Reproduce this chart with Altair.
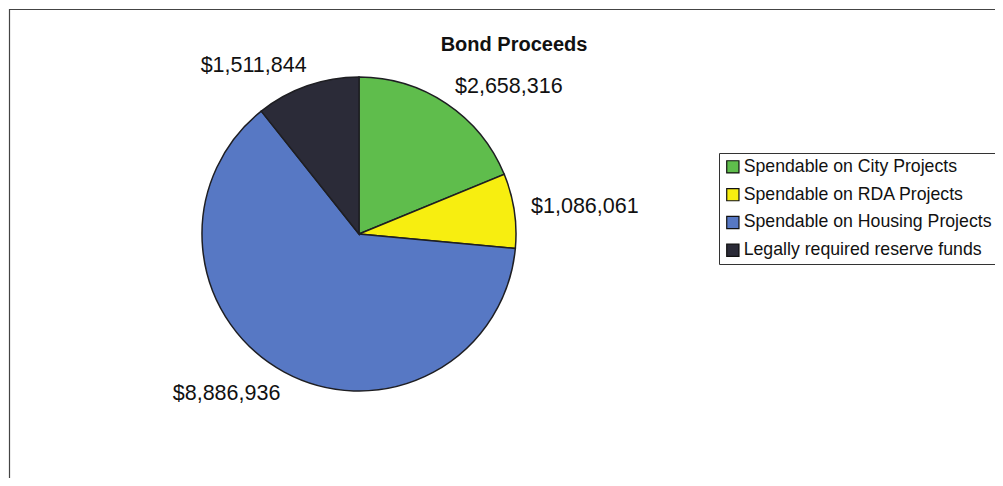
import altair as alt
import pandas as pd

categories = ["Spendable on City Projects", "Spendable on RDA Projects",
              "Spendable on Housing Projects", "Legally required reserve funds"]
values = [2658316, 1086061, 8886936, 1511844]
labels = ["$2,658,316", "$1,086,061", "$8,886,936", "$1,511,844"]
right_side = ["Spendable on City Projects", "Spendable on RDA Projects"]
colors = ["#5fbd4c", "#f7ee10", "#5778c4", "#2b2b38"]

df = pd.DataFrame({"cat": categories, "value": values, "label": labels,
                   "idx": list(range(len(categories)))})

W, H = 987, 470
CX, CY = 350, 225
R = 157

base = alt.Chart(df).encode(
    theta=alt.Theta("value:Q", stack=True),
    order=alt.Order("idx:Q"),
    x=alt.value(CX), y=alt.value(CY),
)

pie = base.mark_arc(outerRadius=R, stroke="#1e1e22", strokeWidth=1.5).encode(
    color=alt.Color("cat:N", sort=categories,
                    scale=alt.Scale(domain=categories, range=colors),
                    legend=alt.Legend(
                        title=None, orient="none", legendX=710, legendY=144,
                        symbolType="square", symbolSize=150,
                        symbolStrokeColor="#111", symbolStrokeWidth=1.2,
                        labelFont="Liberation Sans", labelFontSize=17.7,
                        labelColor="#111", labelOffset=2, labelLimit=400,
                        rowPadding=8.8, padding=5,
                        strokeColor="#333", fillColor="white")),
)

is_right = "indexof(" + str(right_side).replace("'", '"') + ", datum.cat) >= 0"

lab_right = base.mark_text(radius=176, dx=-2, dy=-1, align="left", baseline="middle",
                           font="Liberation Sans", fontSize=21.5, color="#111").encode(
    text=alt.condition(is_right, "label:N", alt.value("")))
lab_left = base.mark_text(radius=180, dx=7, dy=2, align="right", baseline="middle",
                          font="Liberation Sans", fontSize=21.5, color="#111").encode(
    text=alt.condition(is_right, alt.value(""), "label:N"))

title = alt.Chart(pd.DataFrame({"t": ["Bond Proceeds"]})).mark_text(
    font="Liberation Sans", fontSize=20, fontWeight="bold", color="#111",
    align="center", baseline="middle").encode(
    text="t:N", x=alt.value(505), y=alt.value(36))

frame_top = alt.Chart(pd.DataFrame({"a": [0]})).mark_rule(color="#444", strokeWidth=1.2).encode(
    x=alt.value(0), x2=alt.value(W), y=alt.value(0.5))
frame_left = alt.Chart(pd.DataFrame({"a": [0]})).mark_rule(color="#444", strokeWidth=1.2).encode(
    x=alt.value(0.5), y=alt.value(0), y2=alt.value(H))

chart = alt.layer(frame_top, frame_left, pie, lab_right, lab_left, title).properties(
    width=W, height=H, padding=0,
    autosize=alt.AutoSizeParams(type="fit", contains="padding"),
).configure_view(stroke=None)

chart.save("out.html", embed_options={"renderer": "svg", "actions": False})
